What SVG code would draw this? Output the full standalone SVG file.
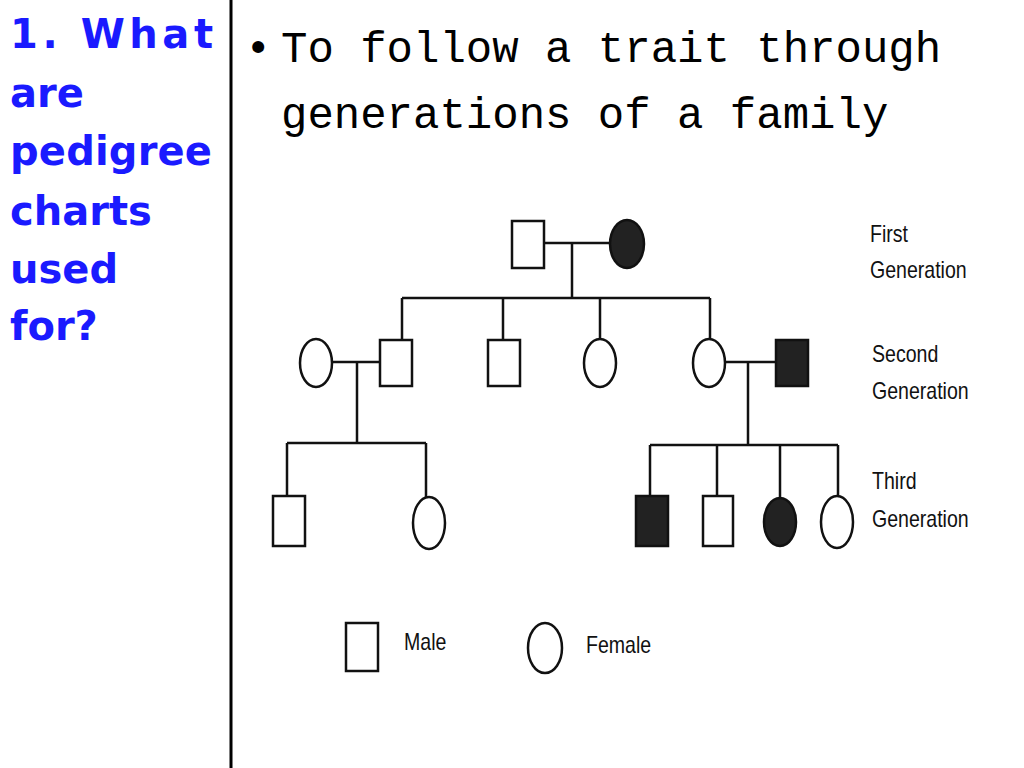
<svg xmlns="http://www.w3.org/2000/svg" width="1024" height="768" viewBox="0 0 1024 768">
<style>
.q{font-family:"Comic Sans MS","DejaVu Sans",sans-serif;font-weight:bold;font-size:40px;fill:#1a1aff}
.b{font-family:"Liberation Mono","DejaVu Sans Mono",monospace;font-size:44px;fill:#000}
.l{font-family:"Liberation Sans","Arial",sans-serif;font-size:23px;fill:#111}
.s{fill:#fff;stroke:#111;stroke-width:2.5}
.f{fill:#222;stroke:#111;stroke-width:2.5}
</style>
<rect width="1024" height="768" fill="#fff"/>
<g id="question">
<text class="q" x="10" y="48" textLength="203">1. What</text>
<text class="q" x="10" y="107">are</text>
<text class="q" x="10" y="165" textLength="202">pedigree</text>
<text class="q" x="10" y="225">charts</text>
<text class="q" x="10" y="283">used</text>
<text class="q" x="10" y="340">for?</text>
</g>
<line x1="231" y1="0" x2="231" y2="768" stroke="#000" stroke-width="3"/>
<g id="answer">
<text class="b" x="245" y="62">•</text>
<text class="b" x="281" y="62">To follow a trait through</text>
<text class="b" x="281" y="128">generations of a family</text>
</g>
<g id="connectors" stroke="#111" stroke-width="2.5" fill="none">
<path d="M544 243H610M572 243V298M402 298H710M402 298V340M503 298V340M600 298V339M710 298V339"/>
<path d="M332 362H380M357 362V443M287 443H426M287 443V496M426 443V497"/>
<path d="M725 362H776M748 362V445M650 445H838M650 445V496M717 445V496M780 445V498M838 445V496"/>
</g>
<g id="gen1">
<rect class="s" x="512" y="221" width="32" height="47"/>
<ellipse class="f" cx="627" cy="244" rx="17" ry="24"/>
</g>
<g id="gen2">
<ellipse class="s" cx="316" cy="363" rx="16" ry="24"/>
<rect class="s" x="380" y="340" width="32" height="46"/>
<rect class="s" x="488" y="340" width="32" height="46"/>
<ellipse class="s" cx="600" cy="363" rx="16" ry="24"/>
<ellipse class="s" cx="709" cy="363" rx="16" ry="24"/>
<rect class="f" x="776" y="340" width="32" height="46"/>
</g>
<g id="gen3">
<rect class="s" x="273" y="496" width="32" height="50"/>
<ellipse class="s" cx="429" cy="523" rx="16" ry="26"/>
<rect class="f" x="636" y="496" width="32" height="50"/>
<rect class="s" x="703" y="496" width="30" height="50"/>
<ellipse class="f" cx="780" cy="522" rx="16" ry="24"/>
<ellipse class="s" cx="837" cy="522" rx="16" ry="26"/>
</g>
<g id="labels">
<text class="l" x="870" y="242" transform="translate(870 0) scale(0.85 1) translate(-870 0)">First</text>
<text class="l" x="870" y="278" transform="translate(870 0) scale(0.85 1) translate(-870 0)">Generation</text>
<text class="l" x="872" y="362" transform="translate(872 0) scale(0.85 1) translate(-872 0)">Second</text>
<text class="l" x="872" y="399" transform="translate(872 0) scale(0.85 1) translate(-872 0)">Generation</text>
<text class="l" x="872" y="489" transform="translate(872 0) scale(0.85 1) translate(-872 0)">Third</text>
<text class="l" x="872" y="527" transform="translate(872 0) scale(0.85 1) translate(-872 0)">Generation</text>
</g>
<g id="legend">
<rect class="s" x="346" y="623" width="32" height="48"/>
<text class="l" x="404" y="650" transform="translate(404 0) scale(0.85 1) translate(-404 0)">Male</text>
<ellipse class="s" cx="545" cy="648" rx="17" ry="25"/>
<text class="l" x="586" y="653" transform="translate(586 0) scale(0.85 1) translate(-586 0)">Female</text>
</g>
</svg>
